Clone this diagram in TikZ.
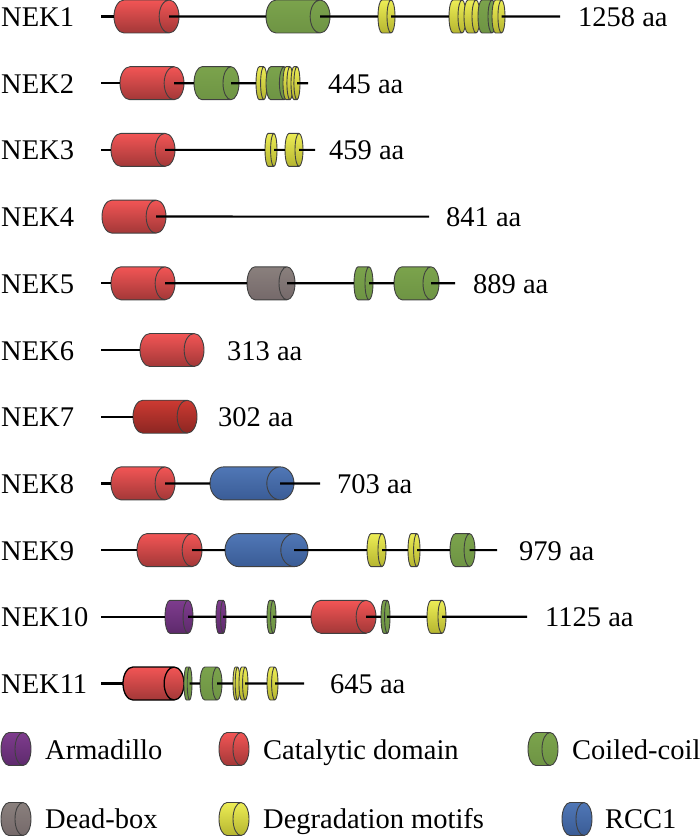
\documentclass[tikz,border=0pt]{standalone}
\usepackage{fontspec}
\setmainfont{Liberation Serif}
\usepackage{tikz}
\usetikzlibrary{shapes.geometric}

\definecolor{edge}{HTML}{404040}
\definecolor{redT}{HTML}{F25555}
\definecolor{redB}{HTML}{A33838}
\definecolor{redDT}{HTML}{CC3A32}
\definecolor{redDB}{HTML}{8C2622}
\definecolor{greenT}{HTML}{7BA34C}
\definecolor{greenB}{HTML}{6E9444}
\definecolor{yelT}{HTML}{EDED55}
\definecolor{yelB}{HTML}{B5B530}
\definecolor{grayT}{HTML}{8A807D}
\definecolor{grayB}{HTML}{75696A}
\definecolor{blueT}{HTML}{5077B6}
\definecolor{blueB}{HTML}{3A5C96}
\definecolor{purT}{HTML}{7E3C8E}
\definecolor{purB}{HTML}{5E2A6C}

\tikzset{
  dom/.style 2 args={cylinder, draw=edge, line width=0.9pt, minimum width=33pt,
    minimum height=#1pt, shape aspect=#2, inner xsep=0pt, inner ysep=16pt,
    outer sep=0pt, anchor=west},
  catdom/.style={top color=redT, bottom color=redB},
  catdark/.style={top color=redDT, bottom color=redDB},
  coildom/.style={top color=greenT, bottom color=greenB},
  degdom/.style={top color=yelT, bottom color=yelB},
  deaddom/.style={top color=grayT, bottom color=grayB},
  rccdom/.style={top color=blueT, bottom color=blueB},
  armdom/.style={top color=purT, bottom color=purB},
  backbone/.style={black, line width=2.2pt},
  protein/.style={anchor=base west, inner sep=0pt, font=\fontsize{28.5}{30}\selectfont},
  aalabel/.style={anchor=base west, inner sep=0pt, font=\fontsize{28.5}{30}\selectfont},
}

\begin{document}
\begin{tikzpicture}[x=1pt,y=-1pt]
\useasboundingbox (0,0) rectangle (700,837);

\node[protein] (k1) at (1,26.5) {NEK1};
\coordinate (k1s) at (101,16.5);
\coordinate (k1t) at (560,16.5);
\node[dom={65}{0.62},catdom] (k1a) at (114,16.5) {};
\node[dom={64}{0.62},coildom] (k1b) at (266,16.5) {};
\node[dom={17}{0.25},degdom] (k1c) at (378,16.5) {};
\node[dom={17}{0.25},degdom] (k1d) at (449,16.5) {};
\node[dom={16}{0.25},degdom] (k1e) at (464,16.5) {};
\node[dom={18}{0.25},coildom] (k1f) at (478,16.5) {};
\node[dom={13}{0.22},degdom] (k1g) at (492,16.5) {};
\draw[backbone] (k1s) -- (k1a.west);
\draw[backbone] ([xshift=-10pt]k1a.east) -- (k1b.west);
\draw[backbone] ([xshift=-10pt]k1b.east) -- (k1c.west);
\draw[backbone] ([xshift=-4pt]k1c.east) -- (k1d.west);
\draw[backbone] ([xshift=-3.5pt]k1g.east) -- (k1t);
\node[aalabel] (k1l) at (578,26.5) {1258 aa};

\node[protein] (k2) at (1,93.2) {NEK2};
\coordinate (k2s) at (101,83.2);
\coordinate (k2t) at (308,83.2);
\node[dom={64}{0.62},catdom] (k2a) at (120,83.2) {};
\node[dom={45}{0.5},coildom] (k2b) at (194,83.2) {};
\node[dom={11}{0.2},degdom] (k2c) at (256,83.2) {};
\node[dom={23}{0.3},coildom] (k2d) at (266,83.2) {};
\node[dom={10}{0.19},degdom] (k2e) at (283,83.2) {};
\node[dom={9}{0.19},degdom] (k2f) at (291,83.2) {};
\draw[backbone] (k2s) -- (k2a.west);
\draw[backbone] ([xshift=-10pt]k2a.east) -- (k2b.west);
\draw[backbone] ([xshift=-8pt]k2b.east) -- (k2c.west);
\draw[backbone] ([xshift=-3pt]k2f.east) -- (k2t);
\node[aalabel] (k2l) at (328,93.2) {445 aa};

\node[protein] (k3) at (1,159.9) {NEK3};
\coordinate (k3s) at (101,149.9);
\coordinate (k3t) at (315,149.9);
\node[dom={64}{0.62},catdom] (k3a) at (111,149.9) {};
\node[dom={12}{0.2},degdom] (k3b) at (265,149.9) {};
\node[dom={18}{0.25},degdom] (k3c) at (285,149.9) {};
\draw[backbone] (k3s) -- (k3a.west);
\draw[backbone] ([xshift=-10pt]k3a.east) -- (k3b.west);
\draw[backbone] ([xshift=-3pt]k3b.east) -- (k3c.west);
\draw[backbone] ([xshift=-4pt]k3c.east) -- (k3t);
\node[aalabel] (k3l) at (329,159.9) {459 aa};

\node[protein] (k4) at (1,226.6) {NEK4};
\coordinate (k4t) at (429,216.6);
\node[dom={64}{0.62},catdom] (k4a) at (102,216.6) {};
\draw[backbone] ([xshift=-10pt]k4a.east) -- (k4t);
\node[aalabel] (k4l) at (446,226.6) {841 aa};

\node[protein] (k5) at (1,293.3) {NEK5};
\coordinate (k5s) at (101,283.3);
\coordinate (k5t) at (455,283.3);
\node[dom={64}{0.62},catdom] (k5a) at (111,283.3) {};
\node[dom={48}{0.5},deaddom] (k5b) at (247,283.3) {};
\node[dom={19}{0.25},coildom] (k5c) at (354,283.3) {};
\node[dom={45}{0.5},coildom] (k5d) at (394,283.3) {};
\draw[backbone] (k5s) -- (k5a.west);
\draw[backbone] ([xshift=-10pt]k5a.east) -- (k5b.west);
\draw[backbone] ([xshift=-8pt]k5b.east) -- (k5c.west);
\draw[backbone] ([xshift=-4pt]k5c.east) -- (k5d.west);
\draw[backbone] ([xshift=-8pt]k5d.east) -- (k5t);
\node[aalabel] (k5l) at (473,293.3) {889 aa};

\node[protein] (k6) at (1,360) {NEK6};
\coordinate (k6s) at (101,350);
\node[dom={64}{0.62},catdom] (k6a) at (140,350) {};
\draw[backbone] (k6s) -- (k6a.west);
\node[aalabel] (k6l) at (227,360) {313 aa};

\node[protein] (k7) at (1,426.7) {NEK7};
\coordinate (k7s) at (101,416.7);
\node[dom={64}{0.62},catdark] (k7a) at (133,416.7) {};
\draw[backbone] (k7s) -- (k7a.west);
\node[aalabel] (k7l) at (218,426.7) {302 aa};

\node[protein] (k8) at (1,493.4) {NEK8};
\coordinate (k8s) at (101,483.4);
\coordinate (k8t) at (320,483.4);
\node[dom={64}{0.62},catdom] (k8a) at (111,483.4) {};
\node[dom={84}{0.85},rccdom] (k8b) at (210,483.4) {};
\draw[backbone] (k8s) -- (k8a.west);
\draw[backbone] ([xshift=-10pt]k8a.east) -- (k8b.west);
\draw[backbone] ([xshift=-14pt]k8b.east) -- (k8t);
\node[aalabel] (k8l) at (337,493.4) {703 aa};

\node[protein] (k9) at (1,560.1) {NEK9};
\coordinate (k9s) at (101,550.1);
\coordinate (k9t) at (497,550.1);
\node[dom={65}{0.62},catdom] (k9a) at (137,550.1) {};
\node[dom={83}{0.85},rccdom] (k9b) at (225,550.1) {};
\node[dom={19}{0.25},degdom] (k9c) at (367,550.1) {};
\node[dom={12}{0.2},degdom] (k9d) at (408,550.1) {};
\node[dom={25}{0.34},coildom] (k9e) at (450,550.1) {};
\draw[backbone] (k9s) -- (k9a.west);
\draw[backbone] ([xshift=-10pt]k9a.east) -- (k9b.west);
\draw[backbone] ([xshift=-14pt]k9b.east) -- (k9c.west);
\draw[backbone] ([xshift=-4pt]k9c.east) -- (k9d.west);
\draw[backbone] ([xshift=-3pt]k9d.east) -- (k9e.west);
\draw[backbone] ([xshift=-5.5pt]k9e.east) -- (k9t);
\node[aalabel] (k9l) at (519,560.1) {979 aa};

\node[protein] (k10) at (1,626.8) {NEK10};
\coordinate (k10s) at (101,616.8);
\coordinate (k10t) at (527,616.8);
\node[dom={28}{0.31},armdom] (k10a) at (165,616.8) {};
\node[dom={10}{0.17},armdom] (k10b) at (216,616.8) {};
\node[dom={9}{0.17},coildom] (k10c) at (267,616.8) {};
\node[dom={65}{0.62},catdom] (k10d) at (311,616.8) {};
\node[dom={9}{0.17},coildom] (k10e) at (381,616.8) {};
\node[dom={19}{0.25},degdom] (k10f) at (427,616.8) {};
\draw[backbone] (k10s) -- (k10a.west);
\draw[backbone] ([xshift=-5pt]k10a.east) -- (k10b.west);
\draw[backbone] ([xshift=-3pt]k10b.east) -- (k10c.west);
\draw[backbone] ([xshift=-3pt]k10c.east) -- (k10d.west);
\draw[backbone] ([xshift=-10pt]k10d.east) -- (k10e.west);
\draw[backbone] ([xshift=-3pt]k10e.east) -- (k10f.west);
\draw[backbone] ([xshift=-4pt]k10f.east) -- (k10t);
\node[aalabel] (k10l) at (545,626.8) {1125 aa};

\node[protein] (k11) at (1,693.5) {NEK11};
\coordinate (k11s) at (101,683.5);
\coordinate (k11t) at (304,683.5);
\node[dom={61}{0.62},catdom,draw=black,line width=1.3pt] (k11a) at (123,683.5) {};
\node[dom={8}{0.15},coildom] (k11b) at (184,683.5) {};
\node[dom={22}{0.3},coildom] (k11c) at (200,683.5) {};
\node[dom={7}{0.15},degdom] (k11d) at (233,683.5) {};
\node[dom={9}{0.17},degdom] (k11e) at (239,683.5) {};
\node[dom={11}{0.2},degdom] (k11f) at (267,683.5) {};
\draw[backbone] (k11s) -- (k11a.west);
\draw[backbone] ([xshift=-2.5pt]k11b.east) -- (k11c.west);
\draw[backbone] ([xshift=-5pt]k11c.east) -- (k11d.west);
\draw[backbone] ([xshift=-3pt]k11e.east) -- (k11f.west);
\draw[backbone] ([xshift=-3pt]k11f.east) -- (k11t);
\node[aalabel] (k11l) at (330,693.5) {645 aa};

\node[dom={30}{0.5},armdom] (g1) at (1,749) {};
\node[protein] (g1l) at (45,759) {Armadillo};
\node[dom={30}{0.5},catdom] (g2) at (219,749) {};
\node[protein] (g2l) at (263,759) {Catalytic domain};
\node[dom={30}{0.5},coildom] (g3) at (528,749) {};
\node[protein] (g3l) at (572,759) {Coiled-coil};
\node[dom={30}{0.5},deaddom] (g4) at (1,819) {};
\node[protein] (g4l) at (45,828) {Dead-box};
\node[dom={30}{0.5},degdom] (g5) at (219,819) {};
\node[protein] (g5l) at (263,828) {Degradation motifs};
\node[dom={30}{0.5},rccdom] (g6) at (562,819) {};
\node[protein] (g6l) at (605,828) {RCC1};
\end{tikzpicture}
\end{document}
